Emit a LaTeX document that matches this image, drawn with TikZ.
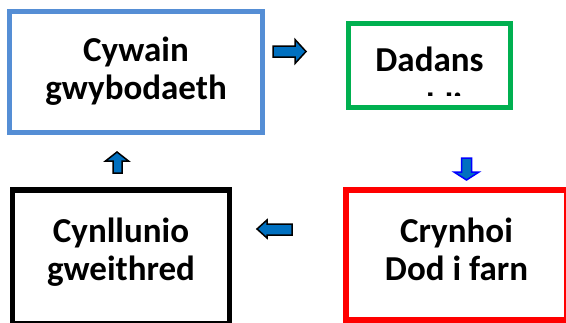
\documentclass[tikz,border=0pt]{standalone}
\usepackage{fontspec}
\setmainfont{Carlito}
\usetikzlibrary{positioning}
\definecolor{boxblue}{RGB}{85,142,213}
\definecolor{boxgreen}{RGB}{0,176,80}
\definecolor{arrowfill}{RGB}{0,112,192}

\begin{document}
\begin{tikzpicture}[x=1pt, y=-1pt,
	stage/.style={rectangle, draw, line width=5.5pt, inner sep=0pt, align=center,
		text depth=9pt, font=\bfseries\fontsize{35}{38}\selectfont},
	blockarrow/.style={draw=black, line width=1.5pt, fill=arrowfill, line join=miter}]
	\useasboundingbox (0,0) rectangle (566,322);

	% the four stages
	\node[stage, draw=boxblue, minimum width=253pt, minimum height=121pt, text height=64pt] (gather) at (136,72) {Cywain\\gwybodaeth};
	\node[stage, draw=boxgreen, minimum width=162pt, minimum height=84pt] (analyse) at (429.5,65.5) {};
	\node[stage, draw=red, minimum width=221pt, minimum height=130pt, text height=59pt] (summary) at (456.5,255) {Crynhoi\\Dod i farn};
	\node[stage, draw=black, minimum width=217pt, minimum height=134pt, text height=55pt] (plan) at (121,257) {Cynllunio\\gweithred};

	% green text runs over its box and is cut off
	\begin{scope}
		\clip (351.5,26.5) rectangle (507.5,95.5);
		\node[stage, draw=none, text depth=0pt, anchor=base] (analyse-text) at (analyse.center |- 0,117.5) {Dadans\\[8pt]oddi};
	\end{scope}

	% block arrows
	\draw[blockarrow] (273,46) -- (295,46) -- (295,39.5) -- (306,51.5) -- (295,63.5) -- (295,57) -- (273,57) -- cycle;
	\draw[blockarrow, draw=blue] (461.5,158) -- (471.5,158) -- (471.5,172) -- (479,172) -- (466.5,180) -- (454,172) -- (461.5,172) -- cycle;
	\draw[blockarrow] (292,224) -- (267,224) -- (267,220) -- (257,229) -- (267,238) -- (267,235) -- (292,235) -- cycle;
	\draw[blockarrow] (113,173) -- (113,161) -- (105.5,161) -- (117,152) -- (128.5,161) -- (122,161) -- (122,173) -- cycle;
\end{tikzpicture}
\end{document}
